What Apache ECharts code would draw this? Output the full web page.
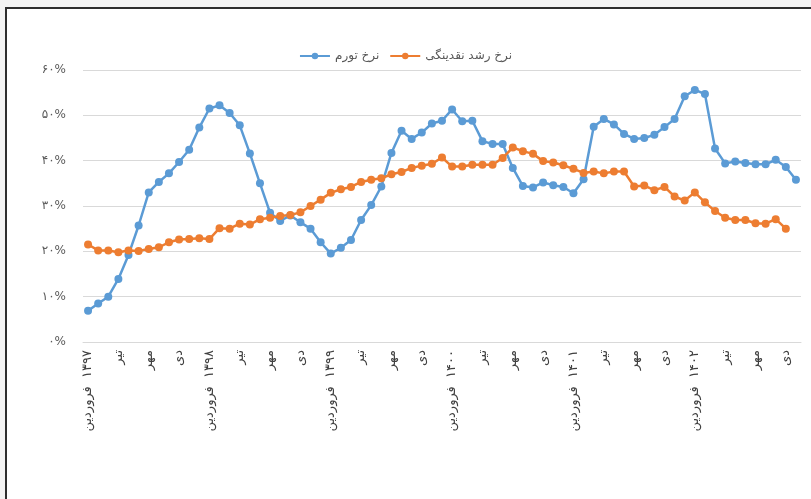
<!DOCTYPE html>
<html>
<head>
<meta charset="utf-8">
<script src="https://cdn.jsdelivr.net/npm/echarts@6/dist/echarts.min.js"></script>
<style>
  html, body {
    margin: 0;
    padding: 0;
    background: #f3f3f3;
    overflow: hidden;
  }
  .frame {
    position: absolute;
    left: 5px;
    top: 7px;
    width: 830px;
    height: 520px;
    border: 2px solid #2e2e2e;
    background: #ffffff;
  }
  #chart {
    position: absolute;
    left: -7px;
    top: -9px;
    width: 811px;
    height: 499px;
  }
</style>
</head>
<body>
<div class="frame">
  <div id="chart"></div>
</div>
<script>
  const monthNames = ['فروردین', 'اردیبهشت', 'خرداد', 'تیر', 'مرداد', 'شهریور', 'مهر', 'آبان', 'آذر', 'دی', 'بهمن', 'اسفند']
  const years = [1397, 1398, 1399, 1400, 1401, 1402]
  const yTicks = [0, 10, 20, 30, 40, 50, 60]

  // نرخ تورم (فروردین ۱۳۹۷ تا بهمن ۱۴۰۲)
  const inflation = [
    6.9, 8.5, 10.0, 13.9, 19.2, 25.7, 33.0, 35.3, 37.2, 39.7, 42.4, 47.3,
    51.5, 52.2, 50.5, 47.8, 41.6, 35.0, 28.5, 26.7, 27.9, 26.4, 25.0, 22.0,
    19.5, 20.8, 22.5, 26.9, 30.2, 34.3, 41.7, 46.6, 44.8, 46.2, 48.2, 48.8,
    51.3, 48.7, 48.8, 44.3, 43.7, 43.7, 38.4, 34.4, 34.1, 35.2, 34.6, 34.2,
    32.8, 35.9, 47.5, 49.2, 48.0, 45.9, 44.8, 45.0, 45.7, 47.4, 49.2, 54.2,
    55.6, 54.7, 42.7, 39.4, 39.8, 39.5, 39.2, 39.2, 40.2, 38.6, 35.8
  ]
  // نرخ رشد نقدینگی (فروردین ۱۳۹۷ تا دی ۱۴۰۲)
  const liquidity = [
    21.5, 20.2, 20.2, 19.8, 20.2, 20.1, 20.5, 20.9, 22.0, 22.6, 22.7, 22.9,
    22.7, 25.1, 25.0, 26.1, 25.9, 27.1, 27.4, 27.8, 28.0, 28.6, 30.0, 31.4,
    32.9, 33.7, 34.2, 35.3, 35.8, 36.1, 37.0, 37.5, 38.4, 38.9, 39.3, 40.7,
    38.7, 38.7, 39.1, 39.1, 39.1, 40.6, 42.9, 42.1, 41.5, 39.9, 39.6, 39.0,
    38.2, 37.3, 37.6, 37.2, 37.6, 37.6, 34.3, 34.5, 33.5, 34.2, 32.1, 31.2,
    33.0, 30.8, 28.9, 27.4, 26.9, 26.9, 26.2, 26.1, 27.1, 25.0
  ]

  const toFa = (s) => String(s).replace(/\d/g, d => '۰۱۲۳۴۵۶۷۸۹'[d])

  const categories = []
  for (let i = 0; i < inflation.length; i++) {
    const m = i % 12
    const y = years[Math.floor(i / 12)]
    // LRM keeps the year on the right of the month name
    categories.push(m === 0 ? monthNames[m] + '\u200E  ' + toFa(y) : monthNames[m])
  }

  const font = '"DejaVu Sans", "Noto Sans", sans-serif'
  const chart = echarts.init(document.getElementById('chart'))
  const option = {
    animation: false,
    legend: {
      top: 45,
      left: 'center',
      itemWidth: 30,
      itemHeight: 8,
      itemGap: 10,
      textStyle: { color: '#595959', fontSize: 12, fontFamily: font },
      data: ['نرخ تورم', 'نرخ رشد نقدینگی']
    },
    grid: {
      left: 83,
      right: 10,
      top: 70,
      bottom: 157
    },
    xAxis: {
      type: 'category',
      boundaryGap: true,
      data: categories,
      axisLine: { show: true, lineStyle: { color: '#d9d9d9' } },
      axisTick: { show: false },
      axisLabel: {
        interval: 2,
        rotate: 90,
        margin: 8,
        color: '#404040',
        fontSize: 13,
        fontFamily: font
      }
    },
    yAxis: {
      type: 'value',
      min: yTicks[0],
      max: yTicks[yTicks.length - 1],
      interval: 10,
      axisLine: { show: false },
      axisTick: { show: false },
      splitLine: { lineStyle: { color: '#d9d9d9', width: 1 } },
      axisLabel: {
        margin: 17,
        color: '#595959',
        fontSize: 12,
        fontFamily: font,
        formatter: v => toFa(v) + '%'
      }
    },
    series: [
      {
        name: 'نرخ تورم',
        type: 'line',
        data: inflation,
        symbol: 'circle',
        symbolSize: 8,
        showSymbol: true,
        showAllSymbol: true,
        lineStyle: { color: '#5b9bd5', width: 2.5 },
        itemStyle: { color: '#5b9bd5' }
      },
      {
        name: 'نرخ رشد نقدینگی',
        type: 'line',
        data: liquidity,
        symbol: 'circle',
        symbolSize: 8,
        showSymbol: true,
        showAllSymbol: true,
        lineStyle: { color: '#ed7d31', width: 2.5 },
        itemStyle: { color: '#ed7d31' }
      }
    ]
  }
  chart.setOption(option)
</script>
</body>
</html>
